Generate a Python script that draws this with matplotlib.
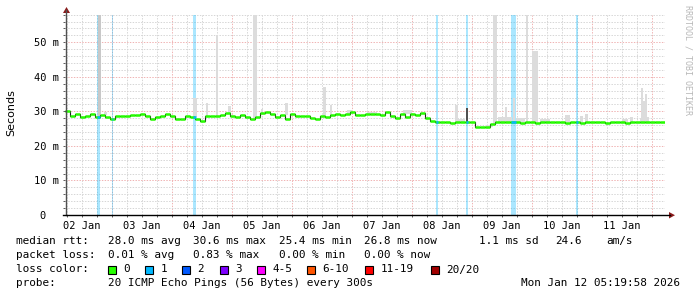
import numpy as np
import matplotlib
matplotlib.use("Agg")
import matplotlib.pyplot as plt
from matplotlib.lines import Line2D
from matplotlib.patches import Rectangle, Polygon
from matplotlib.ticker import MultipleLocator, FixedLocator
from matplotlib.transforms import IdentityTransform, blended_transform_factory

# ---- data -------------------------------------------------------------
# time axis in hours since 02 Jan 00:00, one median value per 2 h step
t_start = 5.33
t_end = 245.33
step_h = 2.0

median_ms = [
    30.0, 28.6, 29.2, 28.5, 28.6, 29.2, 28.4, 28.9, 28.4, 27.7,
    28.8, 28.6, 28.7, 28.9, 28.9, 29.3, 28.7, 27.9, 28.4, 28.6,
    29.1, 28.6, 27.9, 27.9, 28.7, 28.4, 27.9, 27.2, 28.7, 28.7,
    28.6, 28.9, 29.5, 28.7, 28.4, 28.9, 28.4, 27.9, 28.4, 29.5,
    29.8, 29.1, 28.4, 29.0, 27.7, 29.3, 28.6, 28.6, 28.6, 28.0,
    27.7, 28.6, 28.4, 28.9, 29.3, 29.0, 29.3, 29.7, 28.9, 29.0,
    29.2, 29.3, 29.1, 28.9, 29.8, 28.6, 28.2, 29.2, 28.4, 29.3,
    28.9, 29.5, 28.2, 27.3, 26.8, 26.8, 26.9, 26.7, 26.8, 26.8,
    26.9, 26.8, 25.4, 25.4, 25.4, 26.3, 26.8, 26.8, 26.9, 26.8,
    26.8, 26.7, 26.8, 26.8, 26.6, 26.8, 26.8, 26.9, 26.8, 26.8,
    26.6, 26.8, 26.8, 26.7, 26.8, 26.8, 26.9, 26.8, 26.6, 26.8,
    26.8, 26.8, 26.7, 26.8, 26.8, 26.8, 26.9, 26.8, 26.8, 26.8,
]

# smoke (max ping) spikes: start hour, duration hours, top ms
smoke_t = [20.8, 56.4, 61.6, 65.6, 70.4, 80.4, 83.6, 93.2, 108.4, 111.2,
           118.0, 126.0, 140.4, 161.2, 162.4, 173.2, 176.4, 178.4, 181.2, 184.4,
           185.6, 189.6, 192.0, 195.2, 205.2, 211.2, 213.2, 228.0, 231.2, 235.2,
           235.6, 236.4, 237.2, 238.0]
smoke_dur = [1.2, 1.6, 0.8, 0.8, 1.2, 1.6, 0.8, 1.2, 1.2, 0.8,
             2.0, 4.0, 3.6, 1.2, 2.8, 3.2, 1.6, 5.6, 0.8, 0.8,
             3.6, 0.8, 2.4, 4.0, 2.0, 1.2, 1.2, 2.4, 1.2, 0.4,
             0.8, 0.8, 0.8, 0.8]
smoke_top = [29.8, 33.8, 32.3, 52.0, 31.5, 60.0, 30.8, 32.3, 37.0, 31.8,
             30.3, 29.8, 30.3, 31.8, 27.9, 25.9, 60.0, 28.4, 31.3, 34.0,
             28.2, 60.0, 47.4, 27.9, 28.9, 28.6, 29.3, 27.9, 28.4, 28.0,
             36.8, 33.0, 35.0, 28.5]

# dense smoke (many pings spread)
dense_t = [18.3, 165.6]
dense_dur = [1.2, 0.8]
dense_top = [60.0, 31.0]

# loss events: start hour, duration hours, lost pings of 20
loss_t = [18.2, 23.9, 56.4, 153.6, 165.6, 183.6, 209.6]
loss_dur = [1.2, 0.6, 1.2, 0.8, 0.8, 2.0, 0.8]
loss_n = [1, 1, 1, 1, 1, 1, 1]

day_labels = ["02 Jan", "03 Jan", "04 Jan", "05 Jan", "06 Jan",
              "07 Jan", "08 Jan", "09 Jan", "10 Jan", "11 Jan"]
y_ticks = [0, 10, 20, 30, 40, 50]
y_ticklabels = ["0  ", "10 m", "20 m", "30 m", "40 m", "50 m"]

loss_labels = ["0", "1", "2", "3", "4-5", "6-10", "11-19", "20/20"]
loss_colors = ["#26ff00", "#00b8ff", "#0059ff", "#7e00ff",
               "#ff00ff", "#ff5500", "#ff0000", "#a10000"]

rtt_stats = [28.0, 30.6, 25.4, 26.8]
rtt_sd = 1.1
rtt_ams = 24.6
loss_stats = [0.01, 0.83, 0.00, 0.00]
probe_text = "20 ICMP Echo Pings (56 Bytes) every 300s"
stamp_text = "Mon Jan 12 05:19:58 2026"

# ---- figure -----------------------------------------------------------
W, H = 697, 297
fig = plt.figure(figsize=(W / 100, H / 100), dpi=100)
fig.patch.set_facecolor("white")

ymax = 58.0
plot_l, plot_r, plot_b = 65.3, 665.3, 215.0
plot_h = ymax * 3.454
ax = fig.add_axes([plot_l / W, (H - plot_b) / H, (plot_r - plot_l) / W, plot_h / H])
ax.set_xlim(t_start, t_end)
ax.set_ylim(0, ymax)
ax.set_facecolor("white")

mono = "DejaVu Sans Mono"
fs = 7.5
fs_leg = 7.9


def color_for(n):
    if n <= 0:
        return loss_colors[0]
    if n <= 3:
        return loss_colors[n]
    if n <= 5:
        return loss_colors[4]
    if n <= 10:
        return loss_colors[5]
    if n <= 19:
        return loss_colors[6]
    return loss_colors[7]


med = np.array(median_ms)
t0 = t_start + step_h * np.arange(len(med))


def med_at(t):
    i = int((t - t_start) // step_h)
    return med[min(max(i, 0), len(med) - 1)]


# loss background bars
for t, d, n in zip(loss_t, loss_dur, loss_n):
    ax.axvspan(t, t + d, color=color_for(n), alpha=0.33, lw=0, zorder=1)

# smoke
for t, d, top in zip(smoke_t, smoke_dur, smoke_top):
    b = med_at(t)
    ax.bar(t, top - b, width=d, bottom=b, align="edge", color="#dcdcdc", lw=0, zorder=2)
dense_cols = ["#c8c8c8", "#505050"]
for t, d, top, c in zip(dense_t, dense_dur, dense_top, dense_cols):
    b = med_at(t)
    ax.bar(t, top - b, width=d, bottom=b, align="edge", color=c, lw=0, zorder=2)

# median line: thin dark step + thick loss-coloured segments
ax.step(np.append(t0, t0[-1] + step_h), np.append(med, med[-1]), where="post",
        color="#202020", lw=0.8, zorder=3)
ax.hlines(med, t0, t0 + step_h, colors=loss_colors[0], lw=1.8, zorder=4)
for t, d, n in zip(loss_t, loss_dur, loss_n):
    ax.hlines(med_at(t), t, t + d, colors=color_for(n), lw=1.8, zorder=5)

# grid
ax.xaxis.set_major_locator(MultipleLocator(24))
ax.xaxis.set_minor_locator(MultipleLocator(6))
ax.yaxis.set_major_locator(FixedLocator(y_ticks))
ax.yaxis.set_minor_locator(MultipleLocator(2))
ax.set_yticklabels(y_ticklabels, family=mono, fontsize=fs)
ax.set_xticklabels([])
ax.grid(which="minor", color="#d6d6d6", lw=0.72, ls=(0, (1.4, 1.4)), zorder=0)
ax.grid(which="major", color="#f0b4b4", lw=0.72, ls=(0, (1.4, 1.4)), zorder=0)
ax.set_axisbelow(True)
ax.tick_params(which="both", direction="out", length=1.6, width=0.72, color="#606060", pad=3.2)
ax.tick_params(axis="x", which="both", pad=2)
for s in ax.spines.values():
    s.set_visible(False)

# day labels centred on noon
tr = blended_transform_factory(ax.transData, ax.transAxes)
for i, lab in enumerate(day_labels):
    ax.text(12 + 24 * i, -0.032, lab, transform=tr, ha="center", va="top",
            family=mono, fontsize=fs, clip_on=False)

# axes with arrows (pixel coordinates)
idt = IdentityTransform()


def P(x, y):
    return (x, H - y)


fig.add_artist(Line2D([66, 66], [H - 215, H - 10], transform=idt, color="#505050", lw=1.0))
fig.add_artist(Line2D([63, 670], [H - 215, H - 215], transform=idt, color="#000000", lw=1.0))
fig.add_artist(Polygon([P(63, 13), P(70, 13), P(66.5, 7)], closed=True, transform=idt,
                       color="#8b1a1a", lw=0))
fig.add_artist(Polygon([P(669, 212), P(669, 218.5), P(675, 215.2)], closed=True,
                       transform=idt, color="#8b1a1a", lw=0))

# side labels
fig.text(11 / W, 1 - 113 / H, "Seconds", rotation=90, ha="center", va="center",
         fontsize=8, family="DejaVu Sans")
fig.text(688 / W, 1 - 5 / H, "RRDTOOL / TOBI OETIKER", rotation=270, ha="center",
         va="top", fontsize=6, family=mono, color="#b8b8b8")


def ftext(x, y, s, **kw):
    fig.text(x / W, 1 - y / H, s, family=mono, fontsize=fs_leg, va="center", **kw)


r1, r2, r3, r4 = 241, 255.5, 269.5, 283.5
ftext(16.4, r1, "median rtt:")
for x, v, w in zip([108, 193.3, 279, 364.4], rtt_stats, ["avg", "max", "min", "now"]):
    ftext(x, r1, f"{v:.1f} ms {w}")
ftext(479, r1, f"{rtt_sd:.1f} ms sd")
ftext(555.6, r1, f"{rtt_ams:.1f}")
ftext(606.7, r1, "am/s")

ftext(16.4, r2, "packet loss:")
for x, v, w in zip([108, 193.3, 279, 364.4], loss_stats, ["avg", "max", "min", "now"]):
    ftext(x, r2, f"{v:.2f} % {w}")

ftext(16.4, r3, "loss color:")
sw_x = [108, 145, 182, 219.6, 257, 307, 365, 431]
for x, lab, c in zip(sw_x, loss_labels, loss_colors):
    fig.add_artist(Rectangle(P(x, 273.5), 8, 8, transform=idt, facecolor=c,
                             edgecolor="black", lw=0.8))
    ftext(x + 15.5, r3, lab)

ftext(16.4, r4, "probe:")
ftext(108, r4, probe_text)
ftext(680, r4, stamp_text, ha="right")

fig.savefig("out.png", dpi=100)
